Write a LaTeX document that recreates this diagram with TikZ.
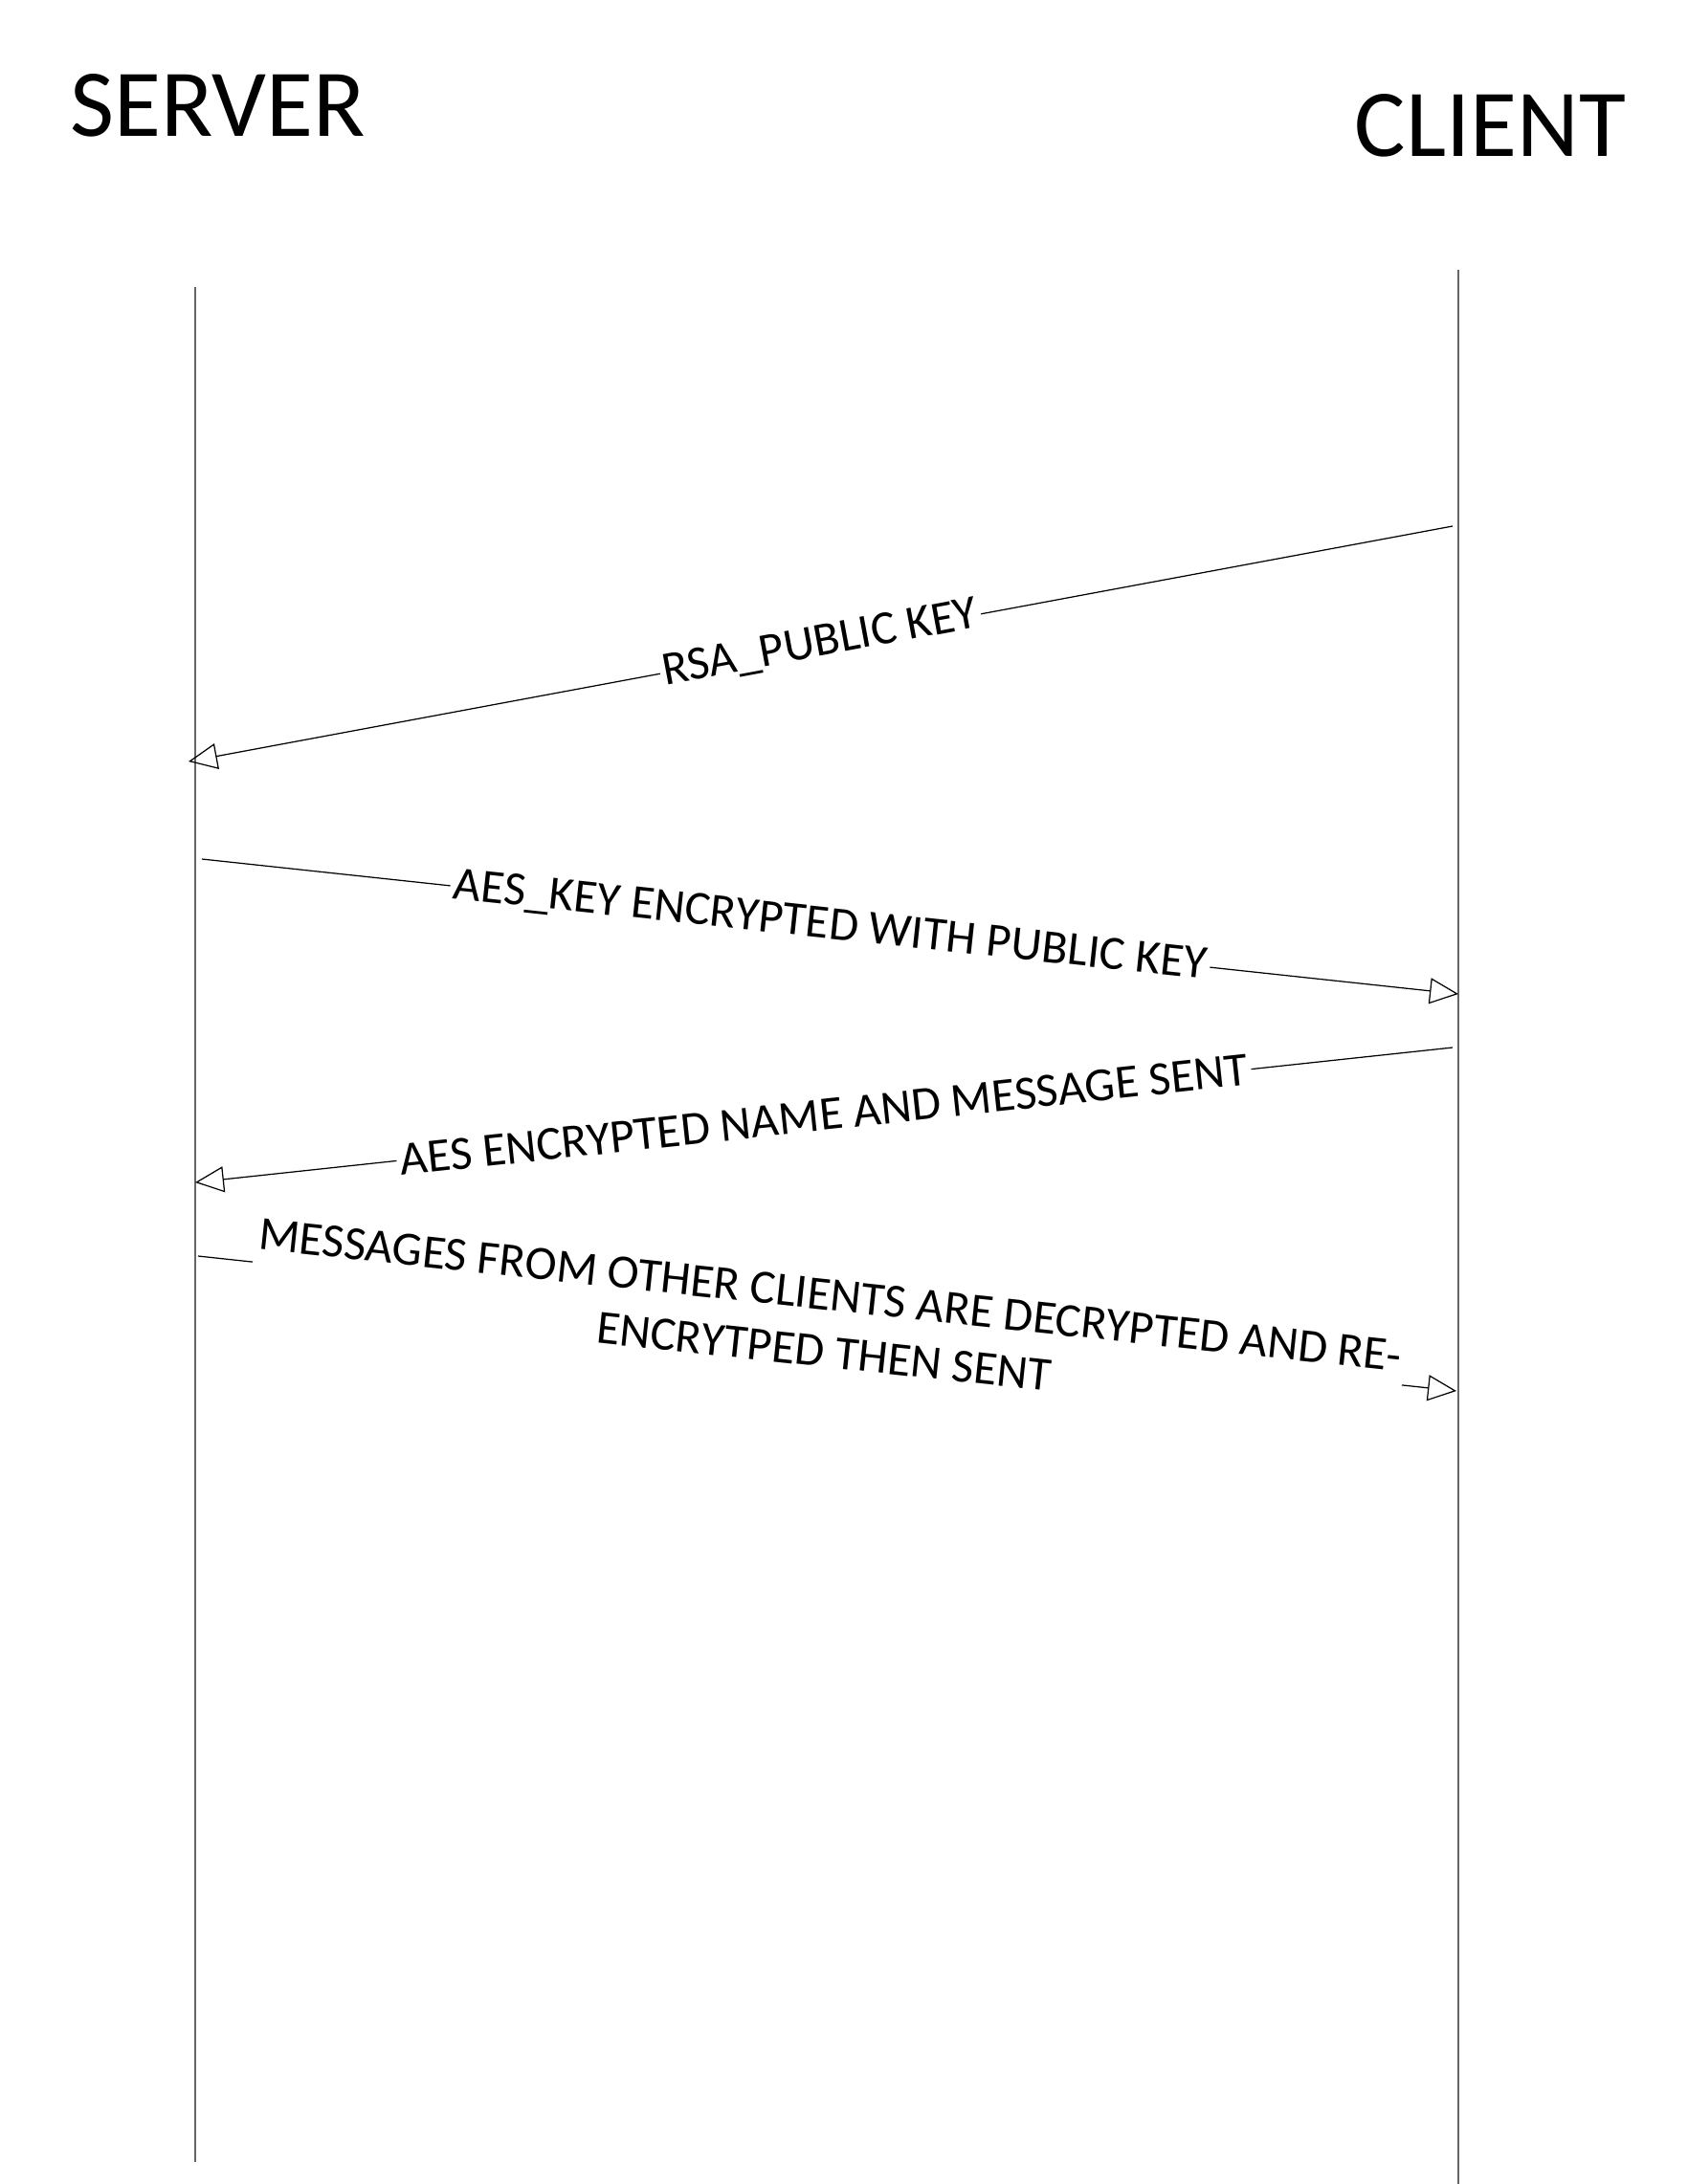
\documentclass[tikz,border=0pt]{standalone}
\usepackage{fontspec}
\setmainfont{Carlito}
\usetikzlibrary{arrows.meta}

\begin{document}
\begin{tikzpicture}[
        title/.style={
                anchor=base west, inner sep=0pt,
                font=\fontsize{28.5}{34}\selectfont
            },
        lifeline/.style={draw=black!60, line width=0.35pt},
        msg/.style={-{Triangle[open, length=0.3cm, width=0.27cm]}, line width=0.35pt},
        lbl/.style={
                midway, sloped, fill=white, inner sep=1pt,
                align=center, font=\fontsize{14.2}{17}\selectfont
            }
        ]
        \useasboundingbox (0,0) rectangle (17.63,-22.83);

        \node[title] (server) at (0.73,-1.42) {SERVER};
        \node[title] (client) at (14.15,-1.63) {CLIENT};

        % lifelines
        \coordinate (srvtop) at (2.04,-3.00);
        \coordinate (srvbot) at (2.04,-22.60);
        \coordinate (clitop) at (15.24,-2.82);
        \coordinate (clibot) at (15.24,-22.83);
        \draw[lifeline] (srvtop) -- (srvbot);
        \draw[lifeline] (clitop) -- (clibot);

        % message ends
        \coordinate (rsaA) at (15.18,-5.50);
        \coordinate (rsaB) at (1.97,-7.96);
        \coordinate (aeskA) at (2.11,-8.98);
        \coordinate (aeskB) at (15.24,-10.39);
        \coordinate (nameA) at (15.18,-10.95);
        \coordinate (nameB) at (2.04,-12.36);
        \coordinate (fwdA) at (2.07,-13.13);
        \coordinate (fwdB) at (15.22,-14.54);

        \draw[msg] (rsaA) -- node[lbl] {RSA\_PUBLIC KEY} (rsaB);
        \draw[msg] (aeskA) -- node[lbl] {AES\_KEY ENCRYPTED WITH PUBLIC KEY} (aeskB);
        \draw[msg] (nameA) -- node[lbl] {AES ENCRYPTED NAME AND MESSAGE SENT} (nameB);
        \draw[msg] (fwdA) -- node[lbl]
        {MESSAGES FROM OTHER CLIENTS ARE DECRYPTED AND RE-\\ENCRYTPED THEN SENT} (fwdB);
    \end{tikzpicture}
\end{document}
